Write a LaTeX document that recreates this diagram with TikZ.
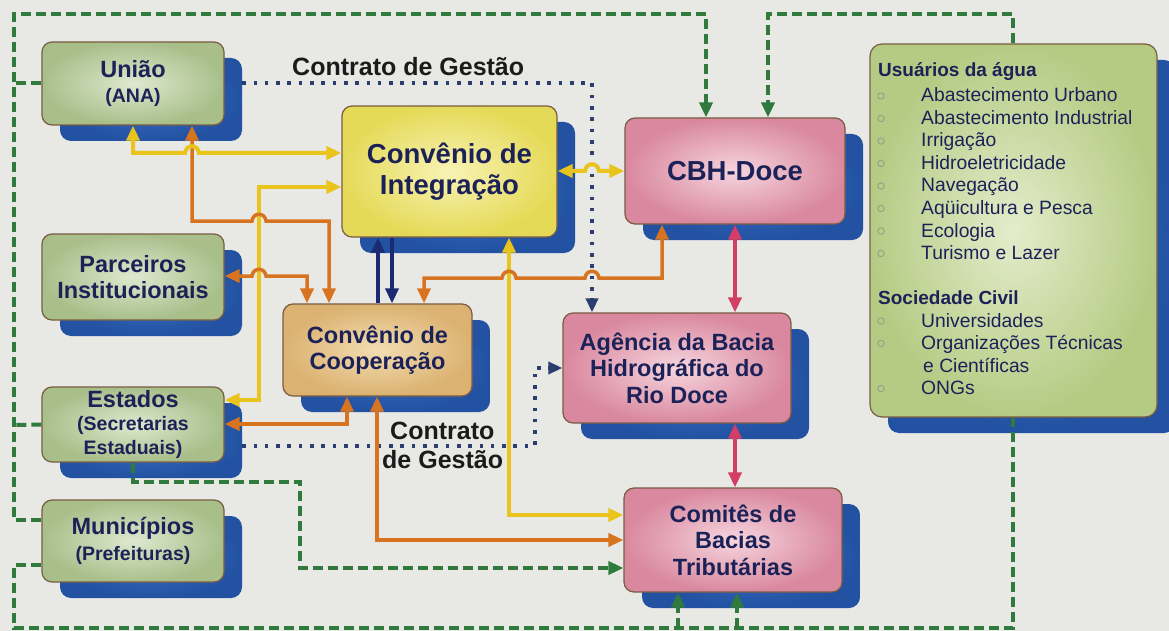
\documentclass[tikz,border=0pt]{standalone}
\usepackage{fontspec}
\setmainfont{Liberation Sans}
\usetikzlibrary{arrows.meta}
\definecolor{bgc}{HTML}{E8E8E5}
\definecolor{txt}{HTML}{1C2258}
\definecolor{brd}{HTML}{7A5C42}
\definecolor{shadc}{HTML}{2352A2}
\definecolor{shadi}{HTML}{3A6EC2}
\definecolor{gout}{HTML}{A8BF8A}
\definecolor{gin}{HTML}{DEE8CF}
\definecolor{yout}{HTML}{E5DA58}
\definecolor{yin}{HTML}{F8F3B4}
\definecolor{oout}{HTML}{DBB271}
\definecolor{oin}{HTML}{F3DDB2}
\definecolor{pout}{HTML}{D9889F}
\definecolor{pin}{HTML}{F6D5DE}
\definecolor{uout}{HTML}{B5CB84}
\definecolor{uin}{HTML}{E4ECCB}
\definecolor{cyel}{HTML}{E9C41C}
\definecolor{cora}{HTML}{D8741F}
\definecolor{cnav}{HTML}{1B2A72}
\definecolor{ccri}{HTML}{D33D66}
\definecolor{cgrn}{HTML}{2F7A3C}
\definecolor{cdot}{HTML}{2C3D70}
\definecolor{lbltxt}{HTML}{1B1B1B}
\definecolor{bulc}{HTML}{98A386}

\newcommand\subf{\fontsize{19.5}{24.5}\selectfont}
\newcommand\mkbox[7]{%
  \node[shad, minimum width=#4pt, minimum height=#5pt] (#1S) at (#2+18,#3+16) {};
  \node[#6, minimum width=#4pt, minimum height=#5pt] (#1) at (#2,#3) {#7};
}

\tikzset{
  x=1pt, y=-1pt,
  >={Triangle[length=15pt,width=13pt]},
  shad/.style={rectangle, rounded corners=11pt, inner color=shadi, outer color=shadc, inner sep=0pt},
  boxbase/.style={rectangle, rounded corners=10pt, draw=brd, line width=1.2pt, inner sep=0pt,
    align=center, text=txt, font=\bfseries\fontsize{23.5}{26.5}\selectfont},
  gbox/.style={boxbase, inner color=gin, outer color=gout},
  ybox/.style={boxbase, inner color=yin, outer color=yout, font=\bfseries\fontsize{27.5}{30.5}\selectfont},
  obox/.style={boxbase, inner color=oin, outer color=oout},
  pbox/.style={boxbase, inner color=pin, outer color=pout},
  ubox/.style={boxbase, rounded corners=12pt, inner color=uin, outer color=uout},
  yel/.style={draw=cyel, line width=4pt},
  ora/.style={draw=cora, line width=3.5pt},
  nav/.style={draw=cnav, line width=3.5pt},
  cri/.style={draw=ccri, line width=3.5pt},
  gdash/.style={draw=cgrn, line width=4pt, dash pattern=on 10pt off 5pt, >={Triangle[length=15pt,width=13pt]}},
  ndot/.style={draw=cdot, line width=3.6pt, dash pattern=on 3.6pt off 7.7pt, >={Triangle[length=14pt,width=12pt]}},
  lbl/.style={text=lbltxt, font=\bfseries\fontsize{25}{28}\selectfont, inner sep=0pt},
  hdr/.style={anchor=base west, inner sep=0pt, text=txt, font=\bfseries\fontsize{19}{22}\selectfont},
  itm/.style={anchor=base west, inner sep=0pt, text=txt, font=\fontsize{19.3}{22}\selectfont},
  bul/.style={draw=bulc, line width=1pt},
}

\begin{document}
\begin{tikzpicture}
\fill[bgc] (0,0) rectangle (1169,631);
\useasboundingbox (0,0) rectangle (1169,631);

% boxes
\mkbox{uniao}{133}{83.5}{182}{83}{gbox}{União\\[-1pt]{\subf (ANA)}}
\mkbox{integ}{449.5}{171.5}{215}{131}{ybox}{Convênio de\\Integração}
\mkbox{cbh}{735}{171}{220}{106}{pbox}{\fontsize{27.5}{30}\selectfont CBH-Doce}
\mkbox{parc}{133}{277}{182}{86}{gbox}{Parceiros\\Institucionais}
\mkbox{coop}{377.5}{350}{189}{92}{obox}{Convênio de\\Cooperação}
\mkbox{agencia}{677}{368}{228}{110}{pbox}{Agência da Bacia\\Hidrográfica do\\Rio Doce}
\mkbox{estados}{133}{424.5}{182}{75}{gbox}{Estados\\[-3pt]{\subf (Secretarias}\\[-3pt]{\subf Estaduais)}}
\mkbox{comites}{733}{540}{218}{104}{pbox}{Comitês de\\Bacias\\Tributárias}
\mkbox{muni}{133}{541}{182}{82}{gbox}{Municípios\\[-1pt]{\subf (Prefeituras)}}
\mkbox{usu}{1013.5}{230.5}{287}{373}{ubox}{}

% list inside Usuarios
\node[hdr] (h1) at (878,77) {Usuários da água};
\node[itm] (i1) at (921,102) {Abastecimento Urbano};
\node[itm] (i2) at (921,124.5) {Abastecimento Industrial};
\node[itm] (i3) at (921,147) {Irrigação};
\node[itm] (i4) at (921,169.5) {Hidroeletricidade};
\node[itm] (i5) at (921,192) {Navegação};
\node[itm] (i6) at (921,214.5) {Aqüicultura e Pesca};
\node[itm] (i7) at (921,237) {Ecologia};
\node[itm] (i8) at (921,259.5) {Turismo e Lazer};
\node[hdr] (h2) at (878,304) {Sociedade Civil};
\node[itm] (i9) at (921,327) {Universidades};
\node[itm] (i10) at (921,349.5) {Organizações Técnicas};
\node[itm] (i11) at (923,372) {e Científicas};
\node[itm] (i12) at (921,394.5) {ONGs};
\foreach \yy in {102,124.5,147,169.5,192,214.5,237,259.5,327,349.5,394.5}
  \draw[bul] (881,\yy-6) circle (3.2);

% labels
\node[lbl, anchor=base west] (cg1) at (292,76) {Contrato de Gestão};
\node[lbl, anchor=base west] (cg2) at (390,439) {Contrato};
\node[lbl, anchor=base west] (cg3) at (382,468) {de Gestão};

% green dashed
\coordinate (gb1) at (678,628);
\coordinate (gb2) at (737,628);
\draw[gdash] (uniao.west) -- (14,83.5);
\draw[gdash] (estados.west) -- (14,425);
\draw[gdash,->] (muni.west |- 0,520) -- (14,520) -- (14,14) -- (706,14) -- (cbh.north -| 706,0);
\draw[gdash,->] (usu.north -| 1013,0) -- (1013,14) -- (768,14) -- (cbh.north -| 768,0);
\draw[gdash] (muni.west |- 0,565) -- (14,565) -- (14,628) -- (1013,628) -- (usu.south -| 1013,0);
\draw[gdash,->] (gb1) -- (comites.south -| gb1);
\draw[gdash,->] (gb2) -- (comites.south -| gb2);
\draw[gdash,->] (estados.south -| 133,0) -- (133,482) -- (300,482) -- (300,568) -- (comites.west |- 0,568);

% navy dotted (Contrato de Gestao)
\draw[ndot,->] (uniaoS.east |- 0,83) -- (592,83) -- (agencia.north -| 592,0);
\draw[ndot,->] (estadosS.east |- 0,446) -- (535,446) -- (535,368) -- (agencia.west |- 0,368);

% yellow (under orange hops)
\draw[yel,<->] (estados.east |- 0,400) -- (259,400) -- (259,187) -- (integ.west |- 0,187);
\draw[yel,<->] (integ.south -| 509,0) -- (509,515) -- (comites.west |- 0,515);

% orange
\draw[ora,<->] (uniao.south -| 192,0) -- (192,221) -- (252,221) .. controls (253,212) and (265,212) .. (266,221) -- (329,221) -- (coop.north -| 329,0);
\draw[ora,<->] (parc.east |- 0,276) -- (252,276) .. controls (253,267) and (265,267) .. (266,276) -- (307,276) -- (coop.north -| 307,0);
\draw[ora,<->] (cbh.south -| 662,0) -- (662,278) -- (599,278) .. controls (598,269) and (586,269) .. (585,278) -- (516,278) .. controls (515,269) and (503,269) .. (502,278) -- (424,278) -- (coop.north -| 424,0);
\draw[ora,<->] (estados.east |- 0,424) -- (347,424) -- (coop.south -| 347,0);
\draw[ora,<->] (coop.south -| 377,0) -- (377,540) -- (comites.west |- 0,540);

% yellow over orange / dotted
\draw[yel,<->] (uniao.south -| 133,0) -- (133,153) -- (185,153) .. controls (186,144) and (198,144) .. (199,153) -- (integ.west |- 0,153);
\draw[yel,<->] (integ.east |- 0,171) -- (585,171) .. controls (586,162) and (598,162) .. (599,171) -- (cbh.west |- 0,171);

% navy solid
\draw[nav,->] (coop.north -| 378,0) -- (integ.south -| 378,0);
\draw[nav,->] (integ.south -| 392,0) -- (coop.north -| 392,0);

% crimson
\draw[cri,<->] (cbh.south -| 735,0) -- (agencia.north -| 735,0);
\draw[cri,<->] (agencia.south -| 735,0) -- (comites.north -| 735,0);
\end{tikzpicture}
\end{document}
